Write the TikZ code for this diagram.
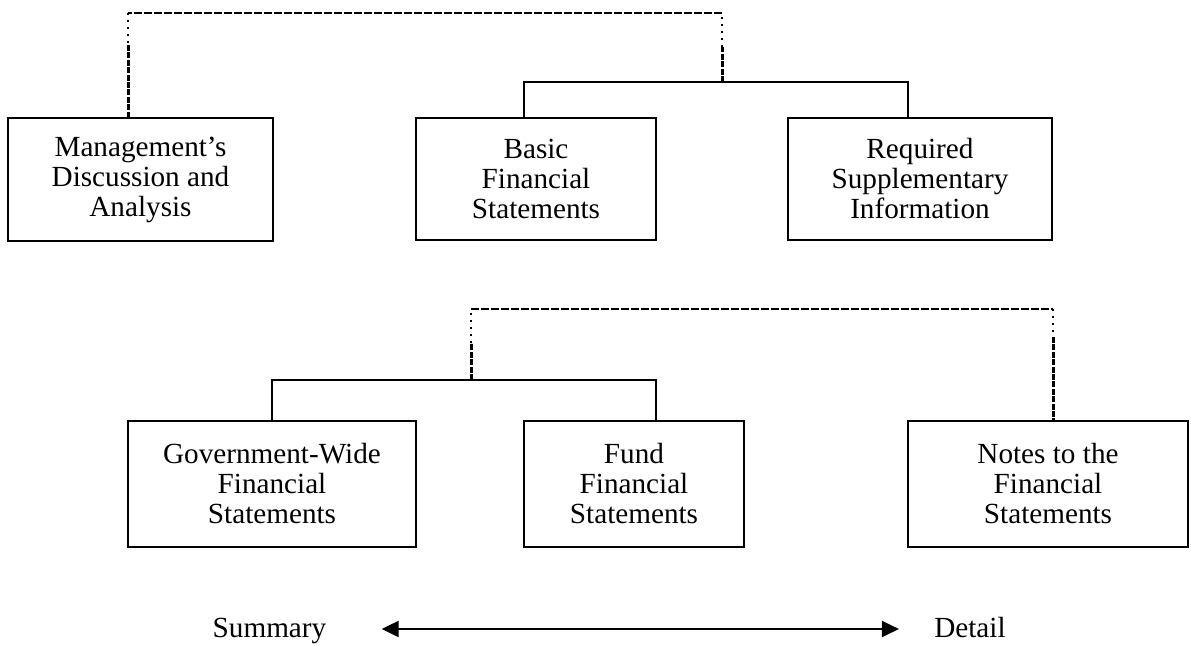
\documentclass[tikz,border=0pt]{standalone}
\usepackage{fontspec}
\setmainfont{Liberation Serif}
\usetikzlibrary{arrows.meta}
\begin{document}
\begin{tikzpicture}[x=0.5pt,y=-0.5pt,
  box/.style={draw, line width=1.35pt, align=center, inner sep=0pt,
    font=\fontsize{14.6pt}{15pt}\selectfont},
  lbl/.style={inner sep=0pt, font=\fontsize{14.6pt}{15pt}\selectfont},
  conn/.style={line width=1.25pt},
  dashh/.style={line width=0.75pt, dash pattern=on 4pt off 1pt},
  dashv/.style={line width=1.5pt, dash pattern=on 3pt off 0.7pt},
  dotv/.style={line width=0.9pt, dash pattern=on 1pt off 2.5pt},
  arr/.style={line width=1.1pt, {Triangle[length=8.5pt,width=8pt]}-{Triangle[length=8.5pt,width=8pt]}}]
\useasboundingbox (0,0) rectangle (1191,645);
% top row
\node[box, minimum width=132.5pt, minimum height=61.5pt] (mda) at (140.5,179.5)
  {Management’s\\Discussion and\\Analysis};
\node[box, minimum width=120pt, minimum height=61pt] (basic) at (536,179)
  {Basic\\Financial\\Statements};
\node[box, minimum width=132pt, minimum height=61pt] (rsi) at (920,179)
  {Required\\Supplementary\\Information};
% bottom row
\node[box, minimum width=144pt, minimum height=63pt] (gw) at (272,484)
  {Government-Wide\\Financial\\Statements};
\node[box, minimum width=110pt, minimum height=63pt] (fund) at (634,484)
  {Fund\\Financial\\Statements};
\node[box, minimum width=140pt, minimum height=63pt] (notes) at (1048,484)
  {Notes to the\\Financial\\Statements};
% top connectors
\coordinate (t1) at (722,82);
\coordinate (t1m) at (722,47);
\coordinate (t2) at (722,13);
\coordinate (t3) at (128,13);
\coordinate (t3m) at (128,45);
\draw[conn] ([xshift=-6pt]basic.north) |- (t1) -| ([xshift=-6pt]rsi.north);
\draw[dashv] (t1) -- (t1m);
\draw[dotv] (t1m) -- (t2);
\draw[dashh] (t2) -- (t3);
\draw[dotv] (t3) -- (t3m);
\draw[dashv] (t3m) -- ([xshift=-6.25pt]mda.north);
% bottom connectors
\coordinate (b1) at (471,380);
\coordinate (b1m) at (471,343);
\coordinate (b2) at (471,309);
\coordinate (b3) at (1053,309);
\coordinate (b3m) at (1053,337);
\draw[conn] (gw.north) |- (b1) -| ([xshift=11pt]fund.north);
\draw[dashv] (b1) -- (b1m);
\draw[dotv] (b1m) -- (b2);
\draw[dashh] (b2) -- (b3);
\draw[dotv] (b3) -- (b3m);
\draw[dashv] (b3m) -- ([xshift=2.5pt]notes.north);
% summary / detail
\node[lbl, anchor=base] (sum) at (269.5,637) {Summary};
\node[lbl, anchor=base] (det) at (970,637) {Detail};
\draw[arr] ([shift={(27.5pt,4pt)}]sum.base east) -- ([shift={(-17.5pt,4pt)}]det.base west);
\end{tikzpicture}
\end{document}
